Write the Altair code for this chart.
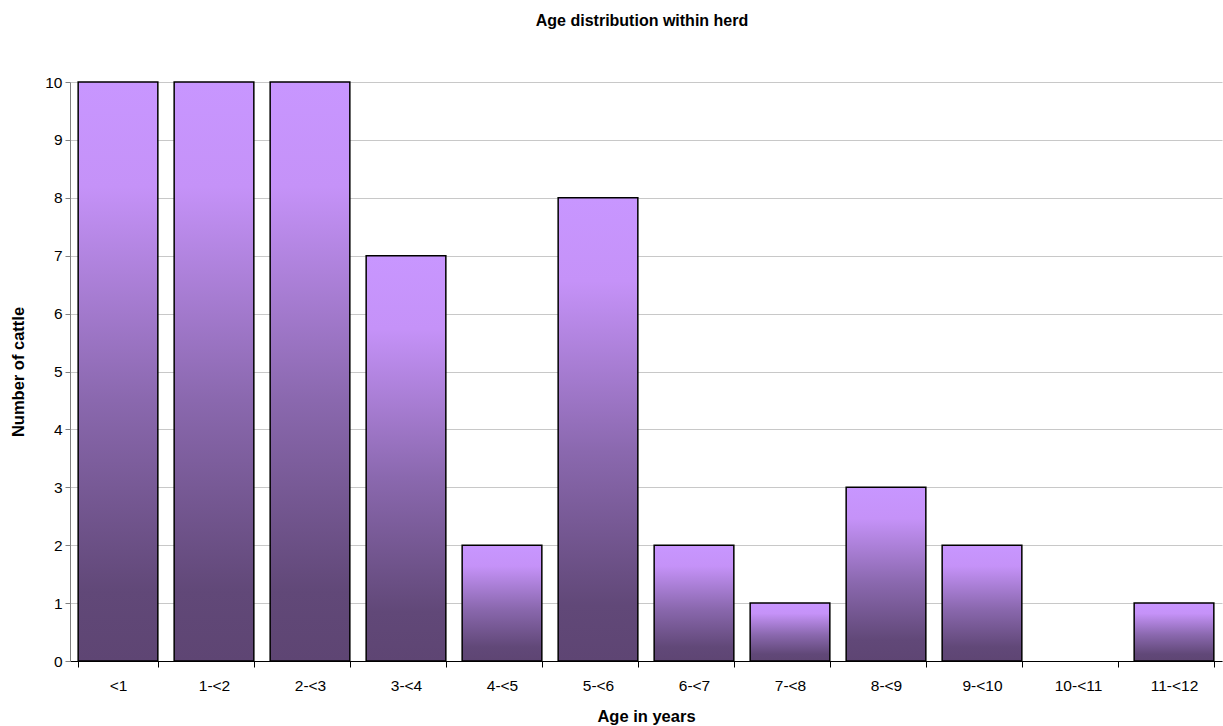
import altair as alt
import pandas as pd

categories = ["<1", "1-<2", "2-<3", "3-<4", "4-<5", "5-<6", "6-<7", "7-<8", "8-<9", "9-<10", "10-<11", "11-<12"]
counts = [10, 10, 10, 7, 2, 8, 2, 1, 3, 2, 0, 1]
y_ticks = list(range(0, 11))

df = pd.DataFrame({"age": categories, "count": counts})

FONT = "Liberation Sans"
LBL = 15.5
TTL = 16.5

grad = alt.Gradient(
    gradient="linear",
    x1=0, y1=0, x2=0, y2=1,
    stops=[
        alt.GradientStop(offset=0, color="#C896FF"),
        alt.GradientStop(offset=0.18, color="#C592F8"),
        alt.GradientStop(offset=0.55, color="#8A68AE"),
        alt.GradientStop(offset=0.88, color="#614878"),
        alt.GradientStop(offset=1, color="#5E4573"),
    ],
)

chart = alt.Chart(df).mark_bar(
    fill=grad, stroke="black", strokeWidth=1.5
).transform_filter(alt.datum["count"] > 0).encode(
    x=alt.X("age:N", sort=categories,
            scale=alt.Scale(domain=categories, paddingInner=0.17, paddingOuter=0.085),
            axis=alt.Axis(title="Age in years", labelAngle=0, tickBand="extent",
                          domainColor="black", tickColor="black", tickSize=6,
                          labelPadding=11, titlePadding=15, grid=False,
                          labelFont=FONT, labelFontSize=LBL, labelColor="black",
                          titleFont=FONT, titleFontSize=TTL, titleFontWeight="bold",
                          titleColor="black")),
    y=alt.Y("count:Q", scale=alt.Scale(domain=[0, 10], nice=False),
            axis=alt.Axis(title="Number of cattle", values=y_ticks, tickSize=5,
                          domainColor="#808080", tickColor="#808080",
                          labelPadding=3, titlePadding=18, grid=True,
                          gridColor="#C8C8C8",
                          labelFont=FONT, labelFontSize=LBL, labelColor="black",
                          titleFont=FONT, titleFontSize=TTL, titleFontWeight="bold",
                          titleColor="black")),
).properties(
    width=1152, height=579,
    title=alt.TitleParams("Age distribution within herd", anchor="middle",
                          dx=-4, offset=46, fontSize=16, font=FONT, fontWeight="bold",
                          color="black"),
    padding={"left": 70, "top": 82, "right": 1, "bottom": 65},
    autosize=alt.AutoSizeParams(type="none"),
).configure_view(stroke=None)

chart.save("out.html", embed_options={"renderer": "svg", "actions": False})
